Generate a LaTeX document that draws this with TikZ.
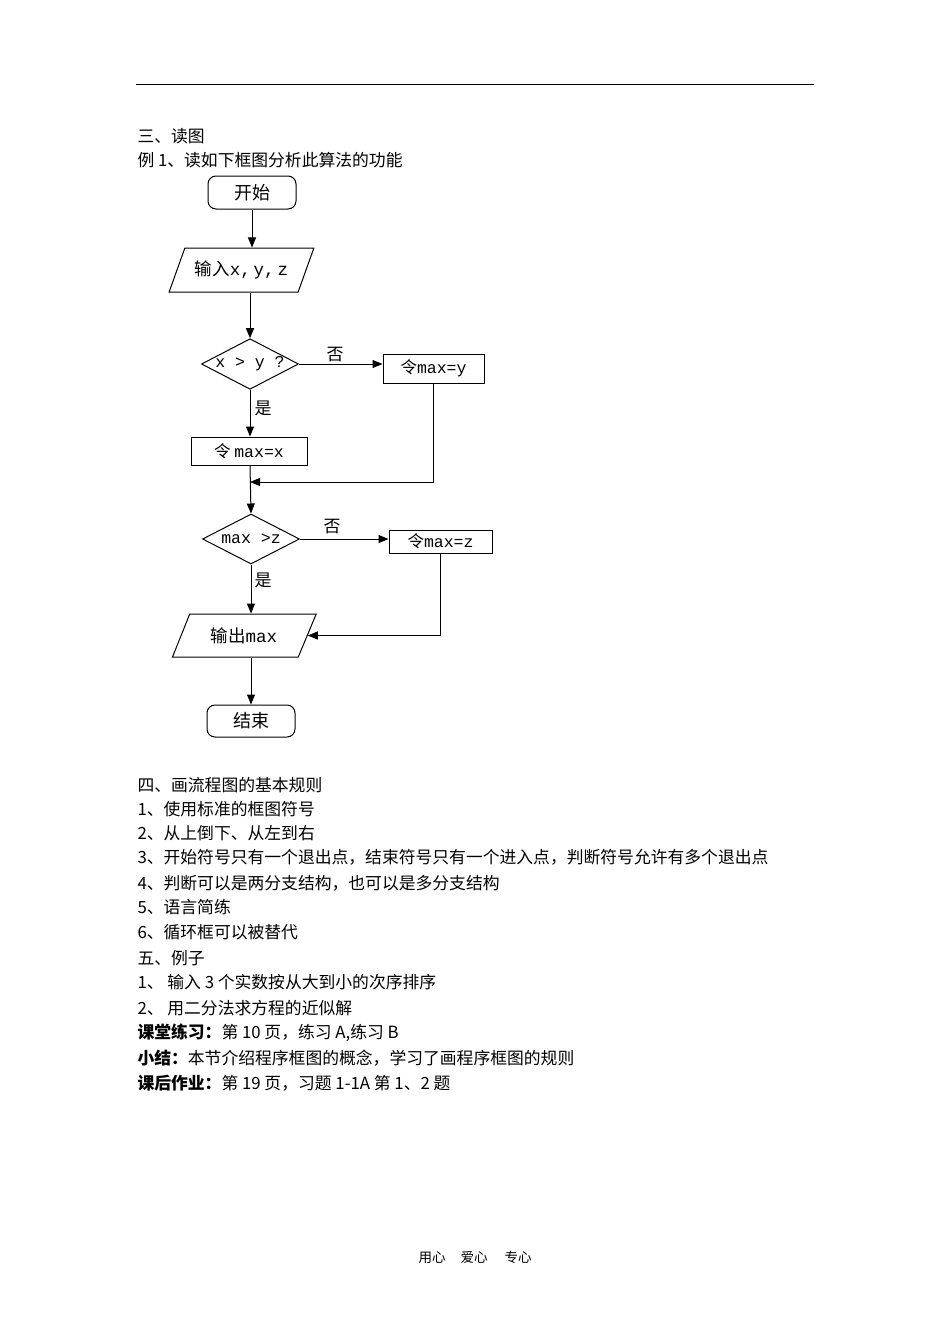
\documentclass[tikz,border=0pt]{standalone}
\usepackage{fontspec}
\setmainfont{Noto Sans CJK SC}
\setmonofont{Liberation Mono}
\usetikzlibrary{shapes.geometric,arrows.meta}
\begin{document}
\begin{tikzpicture}[x=1pt,y=-1pt,
  line width=1pt,
  txt/.style={anchor=base west,inner sep=0pt,font=\fontsize{16.8}{20}\selectfont},
  fc/.style={draw,inner sep=1pt,font=\fontsize{16.5}{18}\selectfont},
  term/.style={fc,rounded corners=8pt,minimum width=88pt,minimum height=33pt,font=\fontsize{18}{20}\selectfont},
  io/.style={fc,trapezium,trapezium stretches=true,trapezium left angle=57,trapezium right angle=123,minimum width=145pt,minimum height=44pt,font=\fontsize{17.5}{20}\selectfont},
  dec/.style={fc,diamond,inner sep=0pt,aspect=1.92},
  proc/.style={fc},
  lab/.style={inner sep=0pt,font=\fontsize{17}{18}\selectfont},
  arr/.style={-{Triangle[length=10pt,width=8pt]}}]
\useasboundingbox (0,0) rectangle (950,1344);
\fill[white] (0,0) rectangle (950,1344);
% top rule
\coordinate (r1) at (136,84);
\coordinate (r2) at (814,84);
\draw[line width=0.8pt] (r1) -- (r2);
% heading text
\node[txt] (t1) at (137,142) {三、读图};
\node[txt] (t2) at (137,166) {例 1、读如下框图分析此算法的功能};
% flowchart
\node[term] (start) at (252,192.5) {开始};
\node[io] (in) at (241.5,270) {输入\texttt{x,\,y,\,z}};
\node[dec,minimum width=96pt,minimum height=50pt] (d1) at (250,364) {\texttt{x > y ?}};
\node[proc,minimum width=101pt,minimum height=29pt] (my) at (433.5,368.5) {令\texttt{max=y}};
\node[proc,minimum width=116pt,minimum height=28pt] (mx) at (249,451) {令 \texttt{max=x}};
\coordinate (j1) at (250,482);
\node[dec,minimum width=97pt,minimum height=50pt] (d2) at (251,539) {\texttt{max >z}};
\node[proc,minimum width=103pt,minimum height=23pt] (mz) at (440.5,541.5) {令\texttt{max=z}};
\node[io,trapezium left angle=59,trapezium right angle=122,minimum width=144pt,minimum height=43pt] (out) at (244,635.5) {输出\texttt{max}};
\node[term,minimum height=32pt] (end) at (251,721) {结束};
\node[lab] (no1) at (335,355) {否};
\node[lab] (yes1) at (263,408) {是};
\node[lab] (no2) at (332,527) {否};
\node[lab] (yes2) at (263,580) {是};
% connectors
\draw[arr] (start.south) -- (start.south |- in.north);
\draw[arr] (d1.north |- in.south) -- (d1.north);
\draw[arr] (d1.east) -- (d1.east -| my.west);
\draw[arr] (d1.south) -- (d1.south |- mx.north);
\draw[arr] (my.south) |- (j1);
\draw[arr] (d1.south |- mx.south) -- (d2.north);
\draw[arr] (d2.east) -- (d2.east -| mz.west);
\draw[arr] (d2.south) -- (d2.south |- out.north);
\draw[arr] (mz.south) |- (out.east);
\draw[arr] (d2.south |- out.south) -- (end.north);
% section text
\node[txt] (s1) at (137,791) {四、画流程图的基本规则};
\node[txt] (s2) at (137,815) {1、使用标准的框图符号};
\node[txt] (s3) at (137,839) {2、从上倒下、从左到右};
\node[txt] (s4) at (137,863) {3、开始符号只有一个退出点，结束符号只有一个进入点，判断符号允许有多个退出点};
\node[txt] (s5) at (137,889) {4、判断可以是两分支结构，也可以是多分支结构};
\node[txt] (s6) at (137,913) {5、语言简练};
\node[txt] (s7) at (137,938) {6、循环框可以被替代};
\node[txt] (s8) at (137,964) {五、例子};
\node[txt] (s9) at (137,988) {1、 输入 3 个实数按从大到小的次序排序};
\node[txt] (s10) at (137,1014) {2、 用二分法求方程的近似解};
\node[txt] (s11) at (137,1038) {\bfseries 课堂练习：\mdseries 第 10 页，练习 A,练习 B};
\node[txt] (s12) at (137,1064) {\bfseries 小结：\mdseries 本节介绍程序框图的概念，学习了画程序框图的规则};
\node[txt] (s13) at (137,1089) {\bfseries 课后作业：\mdseries 第 19 页，习题 1-1A 第 1、2 题};
% footer
\node[anchor=base west,inner sep=0pt,font=\fontsize{13.5}{16}\selectfont] (f1) at (418,1262) {用心\hspace{15pt}爱心\hspace{17pt}专心};
\end{tikzpicture}
\end{document}
